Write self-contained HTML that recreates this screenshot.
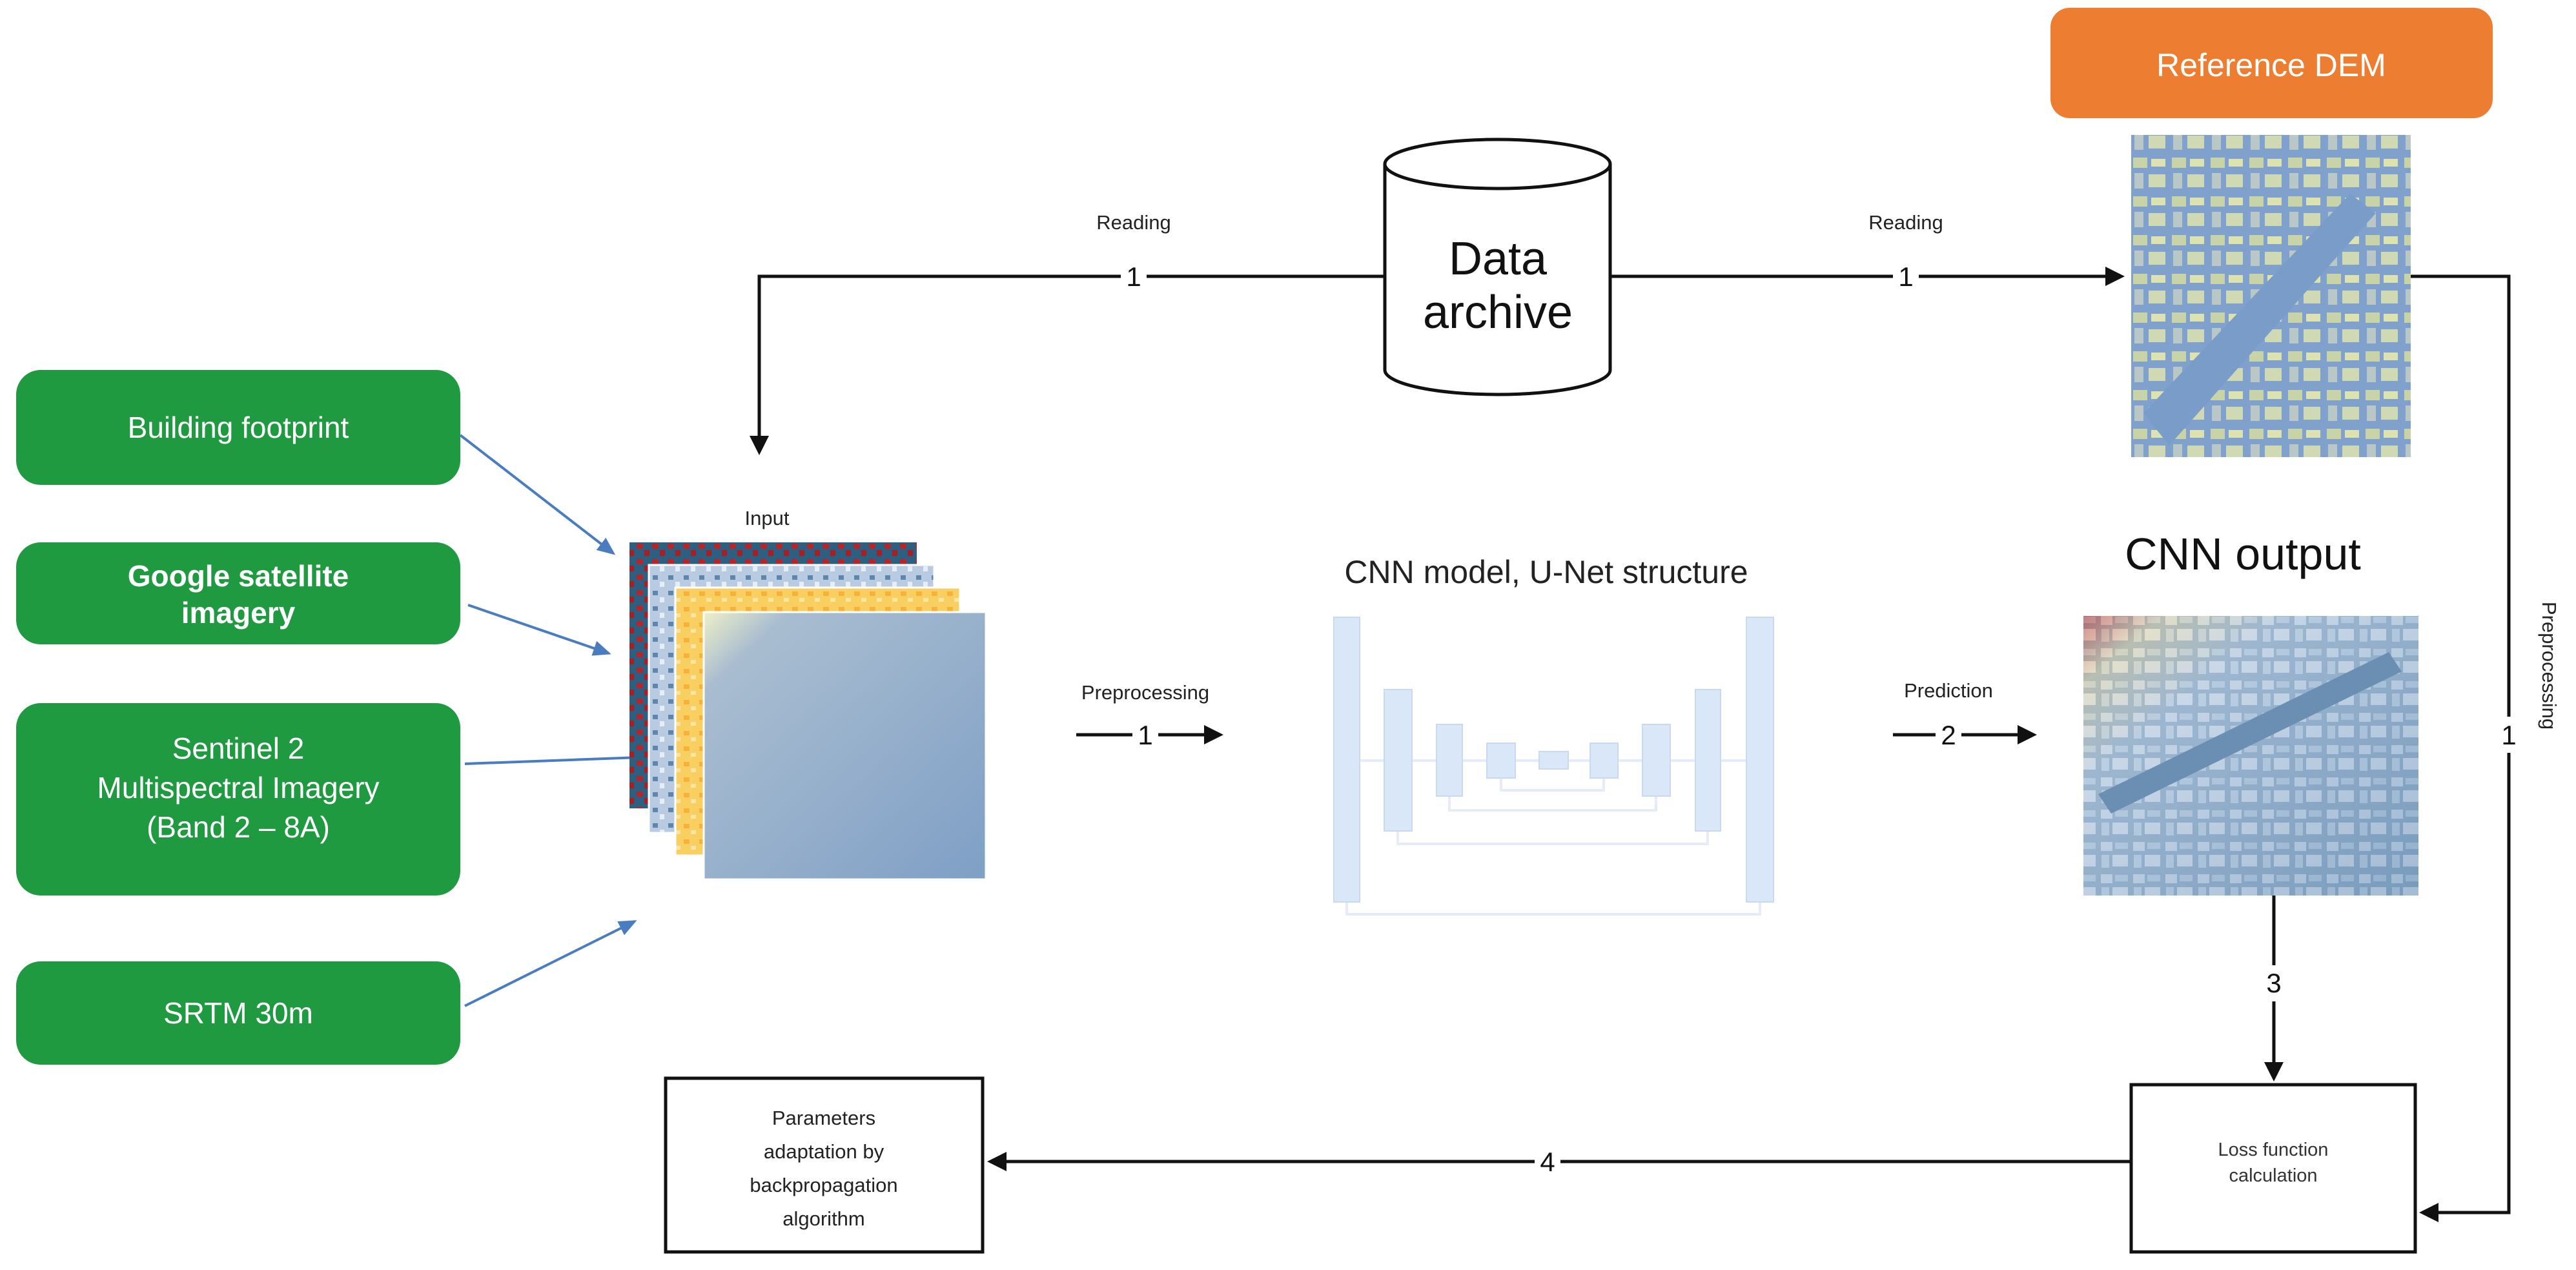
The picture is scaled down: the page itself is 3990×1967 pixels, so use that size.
<!DOCTYPE html>
<html><head><meta charset="utf-8"><style>
html,body{margin:0;padding:0;background:#fff;}
svg{display:block;}
text{font-family:"Liberation Sans",sans-serif;}
</style></head><body>
<svg width="3990" height="1967" viewBox="0 0 3990 1967" xmlns="http://www.w3.org/2000/svg">
<defs>
<marker id="ah" markerWidth="6" markerHeight="6" refX="5" refY="3" orient="auto" markerUnits="strokeWidth"><path d="M0,0 L6,3 L0,6 z" fill="#111"/></marker>
<marker id="bh" markerWidth="7" markerHeight="6" refX="6" refY="3" orient="auto" markerUnits="strokeWidth"><path d="M0,0 L7,3 L0,6 z" fill="#4a7cc0"/></marker>
<linearGradient id="cnnG" x1="0" y1="0" x2="1" y2="1">
<stop offset="0" stop-color="#d9483a"/><stop offset="0.12" stop-color="#f3e2b0"/><stop offset="0.3" stop-color="#c3d4e6"/><stop offset="1" stop-color="#7fa1c2"/></linearGradient>
<linearGradient id="l4G" x1="0" y1="0" x2="1" y2="1">
<stop offset="0" stop-color="#eef0c8"/><stop offset="0.15" stop-color="#a9bdd0"/><stop offset="1" stop-color="#7f9fc6"/></linearGradient>
<pattern id="city" width="60" height="60" patternUnits="userSpaceOnUse">
<rect width="60" height="60" fill="#7fa1cc"/>
<rect x="4" y="4" width="22" height="16" fill="#c9d3a8"/><rect x="32" y="6" width="22" height="12" fill="#dde3b0"/>
<rect x="6" y="28" width="14" height="24" fill="#b9c8c6"/><rect x="28" y="30" width="26" height="20" fill="#cfd9b4"/></pattern>
<pattern id="city2" width="50" height="50" patternUnits="userSpaceOnUse">
<rect width="50" height="50" fill="#6f93b5"/>
<rect x="4" y="4" width="18" height="14" fill="#c6d6e6"/><rect x="26" y="5" width="20" height="10" fill="#a9c1d8"/>
<rect x="5" y="24" width="12" height="20" fill="#b2c8dd"/><rect x="22" y="24" width="24" height="18" fill="#d0dcea"/></pattern>
<pattern id="red" width="24" height="24" patternUnits="userSpaceOnUse">
<rect width="24" height="24" fill="#2f5f80"/><rect x="2" y="2" width="10" height="8" fill="#b3262a"/><rect x="14" y="12" width="8" height="9" fill="#a81f22"/></pattern>
<pattern id="spk" width="24" height="24" patternUnits="userSpaceOnUse">
<rect width="24" height="24" fill="#b8cbe0"/><rect x="3" y="3" width="8" height="7" fill="#5f86ad"/><rect x="14" y="13" width="7" height="8" fill="#e5eef6"/></pattern>
<pattern id="yel" width="24" height="24" patternUnits="userSpaceOnUse">
<rect width="24" height="24" fill="#f9cf62"/><rect x="3" y="4" width="9" height="7" fill="#f5b33a"/><rect x="14" y="14" width="8" height="6" fill="#fce6a2"/></pattern>
</defs>

<!-- green boxes -->
<g fill="#1f9a40">
<rect x="25" y="573" width="688" height="178" rx="38"/>
<rect x="25" y="840" width="688" height="158" rx="38"/>
<rect x="25" y="1089" width="688" height="298" rx="38"/>
<rect x="25" y="1489" width="688" height="160" rx="38"/>
</g>
<g fill="#fff" font-size="46" text-anchor="middle">
<text x="369" y="678">Building footprint</text>
<text x="369" y="908" font-weight="bold">Google satellite</text>
<text x="369" y="965" font-weight="bold">imagery</text>
<text x="369" y="1175">Sentinel 2</text>
<text x="369" y="1236">Multispectral Imagery</text>
<text x="369" y="1297">(Band 2 – 8A)</text>
<text x="369" y="1585">SRTM 30m</text>
</g>

<!-- blue arrows -->
<g stroke="#4a7cc0" stroke-width="4" marker-end="url(#bh)">
<line x1="713" y1="674" x2="950" y2="857"/>
<line x1="725" y1="937" x2="943" y2="1012"/>
<line x1="720" y1="1183" x2="1045" y2="1171"/>
<line x1="720" y1="1558" x2="983" y2="1427"/>
</g>

<!-- input stack -->
<text x="1188" y="813" font-size="31" text-anchor="middle" fill="#222">Input</text>
<rect x="975" y="840" width="445" height="412" fill="url(#red)"/>
<rect x="1005" y="875" width="442" height="415" fill="url(#spk)" stroke="#fff" stroke-width="3"/>
<rect x="1046" y="910" width="441" height="415" fill="url(#yel)" stroke="#fff" stroke-width="3"/>
<rect x="1090" y="948" width="437" height="414" fill="url(#l4G)" stroke="#fff" stroke-width="3"/>

<!-- data archive cylinder -->
<path d="M2145,254 L2145,573 A174.5,38 0 0 0 2494,573 L2494,254" fill="#fff" stroke="#111" stroke-width="5"/>
<ellipse cx="2319.5" cy="254" rx="174.5" ry="38" fill="#fff" stroke="#111" stroke-width="5"/>
<text x="2320" y="425" font-size="72" text-anchor="middle" fill="#111">Data</text>
<text x="2320" y="508" font-size="72" text-anchor="middle" fill="#111">archive</text>

<!-- top connectors -->
<g stroke="#111" stroke-width="5" fill="none">
<polyline points="2145,428 1176,428 1176,700" marker-end="url(#ah)"/>
<line x1="2494" y1="428" x2="3286" y2="428" marker-end="url(#ah)"/>
<polyline points="3734,428 3886,428 3886,1878 3752,1878" marker-end="url(#ah)"/>
<line x1="3522" y1="1387" x2="3522" y2="1670" marker-end="url(#ah)"/>
<line x1="3301" y1="1799" x2="1534" y2="1799" marker-end="url(#ah)"/>
<line x1="1667" y1="1138" x2="1890" y2="1138" marker-end="url(#ah)"/>
<line x1="2932" y1="1138" x2="3150" y2="1138" marker-end="url(#ah)"/>
</g>
<g font-size="31" fill="#222" text-anchor="middle">
<text x="1756" y="355">Reading</text>
<text x="2952" y="355">Reading</text>
<text x="1774" y="1083">Preprocessing</text>
<text x="3018" y="1080">Prediction</text>
<text transform="translate(3938,1031) rotate(90)" x="0" y="0">Preprocessing</text>
</g>
<g font-size="42" fill="#111" text-anchor="middle">
<rect x="1736" y="405" width="40" height="46" fill="#fff"/><text x="1756" y="443">1</text>
<rect x="2932" y="405" width="40" height="46" fill="#fff"/><text x="2952" y="443">1</text>
<rect x="1754" y="1115" width="40" height="46" fill="#fff"/><text x="1774" y="1153">1</text>
<rect x="2998" y="1115" width="40" height="46" fill="#fff"/><text x="3018" y="1153">2</text>
<rect x="3866" y="1110" width="40" height="56" fill="#fff"/><text x="3886" y="1153">1</text>
<rect x="3502" y="1495" width="40" height="56" fill="#fff"/><text x="3522" y="1537">3</text>
<rect x="2377" y="1776" width="40" height="46" fill="#fff"/><text x="2397" y="1814">4</text>
</g>

<!-- reference DEM -->
<rect x="3176" y="12" width="685" height="171" rx="30" fill="#ec7d31"/>
<text x="3518" y="118" font-size="50" fill="#fff" text-anchor="middle">Reference DEM</text>
<rect x="3301" y="209" width="433" height="499" fill="url(#city)"/>
<path d="M3320,640 L3640,300 L3680,330 L3360,690 z" fill="#7a9cc8"/>

<!-- U-Net -->
<text x="2395" y="903" font-size="50" fill="#222" text-anchor="middle">CNN model, U-Net structure</text>
<g fill="none" stroke="#e3ecf8" stroke-width="4">
<line x1="2106" y1="1178" x2="2705" y2="1178"/>
<polyline points="2325,1205 2325,1224 2484,1224 2484,1205"/>
<polyline points="2245,1233 2245,1255 2565,1255 2565,1233"/>
<polyline points="2165,1287 2165,1307 2645,1307 2645,1287"/>
<polyline points="2086,1397 2086,1416 2726,1416 2726,1397"/>
</g>
<g fill="#dae7f8" stroke="#c8d9f0" stroke-width="2">
<rect x="2066" y="956" width="40" height="441"/>
<rect x="2144" y="1068" width="43" height="219"/>
<rect x="2225" y="1122" width="40" height="111"/>
<rect x="2303" y="1151" width="44" height="54"/>
<rect x="2384" y="1164" width="45" height="27"/>
<rect x="2463" y="1151" width="43" height="54"/>
<rect x="2544" y="1122" width="43" height="111"/>
<rect x="2626" y="1068" width="39" height="219"/>
<rect x="2705" y="956" width="42" height="441"/>
</g>

<!-- CNN output -->
<text x="3474" y="882" font-size="70" fill="#111" text-anchor="middle">CNN output</text>
<rect x="3227" y="954" width="519" height="433" fill="url(#city2)"/>
<rect x="3227" y="954" width="519" height="433" fill="url(#cnnG)" opacity="0.55"/>
<path d="M3250,1230 L3700,1010 L3720,1040 L3270,1260 z" fill="#6b8fb2"/>

<!-- boxes -->
<rect x="3301" y="1680" width="440" height="259" fill="#fff" stroke="#111" stroke-width="5"/>
<text x="3521" y="1790" font-size="29" fill="#333" text-anchor="middle">Loss function</text>
<text x="3521" y="1830" font-size="29" fill="#333" text-anchor="middle">calculation</text>
<rect x="1031" y="1670" width="491" height="269" fill="#fff" stroke="#111" stroke-width="5"/>
<g font-size="31" fill="#222" text-anchor="middle">
<text x="1276" y="1742">Parameters</text>
<text x="1276" y="1794">adaptation by</text>
<text x="1276" y="1846">backpropagation</text>
<text x="1276" y="1898">algorithm</text>
</g>
</svg>
</body></html>
